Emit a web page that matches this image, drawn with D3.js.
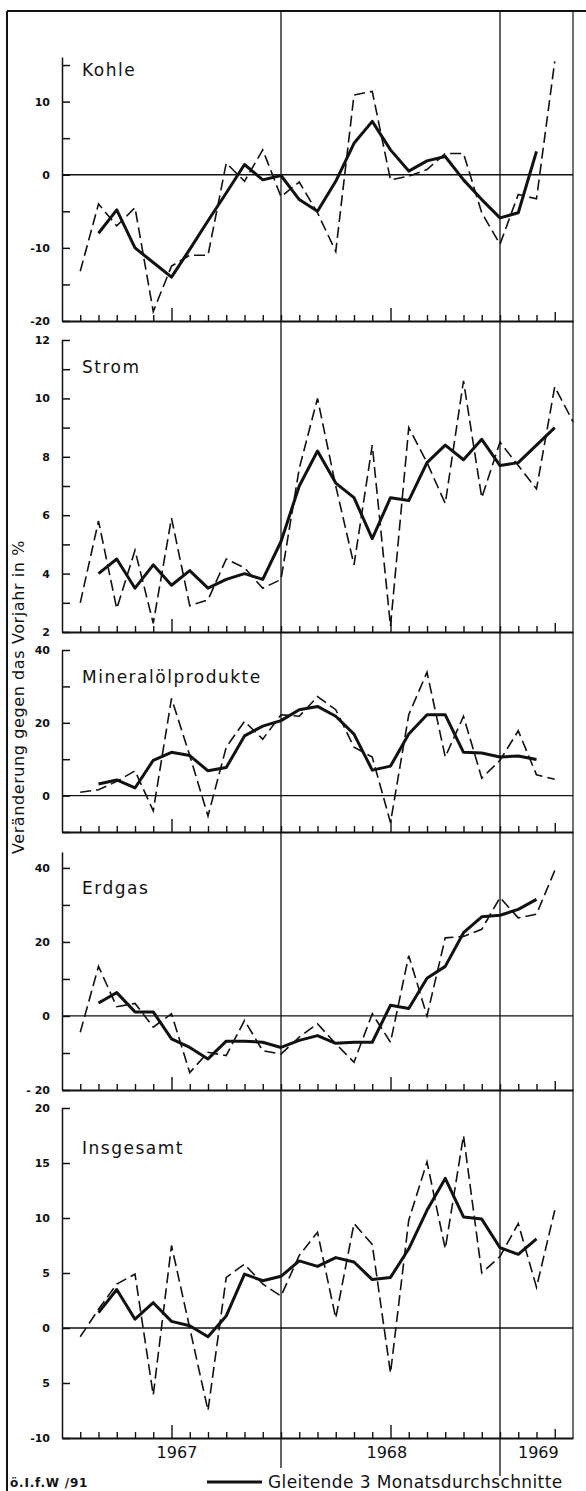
<!DOCTYPE html>
<html>
<head>
<meta charset="utf-8">
<script src="https://cdn.jsdelivr.net/npm/d3@7"></script>
<style>
  body { margin: 0; background: #fff; }
  svg { display: block; }
  .title { font-family: "DejaVu Sans", sans-serif; font-size: 17px; letter-spacing: 1.5px; fill: #111; }
  .tick text { font-family: "DejaVu Sans", sans-serif; font-size: 11px; font-weight: bold; fill: #111; }
</style>
</head>
<body>
<div class="container"></div>
<script>
var width = 586, height = 1491;

// DATA: monthly change vs previous year (%), month index 1 = first month on the axis
const kohleMonthly = [-13.2, -4, -7, -4.5, -18.7, -12.5, -11, -11, 1.6, -0.9, 3.4, -3, -1, -5.2,
  -10.5, 10.9, 11.4, -0.7, -0.2, 0.7, 2.9, 2.9, -5.2, -9.5, -2.7, -3.3, 15.5]
const kohleAvg = [-8, -4.8, -10, -12, -14, -10.2, -6.3, -2.5, 1.4, -0.7, -0.1, -3.4, -5, -0.9,
  4.3, 7.3, 3.4, 0.5, 1.9, 2.5, -0.7, -3.4, -5.9, -5.2, 3.2]

const stromMonthly = [3.0, 5.8, 2.8, 4.8, 2.3, 5.9, 2.9, 3.1, 4.5, 4.2, 3.5, 3.8, 7.6, 10.0,
  7.0, 4.3, 8.4, 2.2, 9.0, 7.8, 6.4, 10.6, 6.6, 8.5, 7.7, 6.9, 10.4, 9.2]
const stromAvg = [4.0, 4.5, 3.5, 4.3, 3.6, 4.1, 3.5, 3.8, 4.0, 3.8, 5.1, 7.0, 8.2, 7.1, 6.6,
  5.2, 6.6, 6.5, 7.8, 8.4, 7.9, 8.6, 7.7, 7.8, 8.4, 9.0]

const mineralMonthly = [0.9, 1.6, 3.9, 6.8, -4.2, 26.7, 11, -5.6, 13.3, 20.4, 15.5, 22.2, 21.8,
  27.2, 23.6, 13.3, 10.6, -7.4, 22.2, 33.9, 10.6, 21.8, 4.8, 9.7, 17.8, 5.7, 4.5]
const mineralAvg = [3.2, 4.3, 2.1, 9.7, 11.9, 11.0, 6.8, 7.7, 16.4, 19.1, 20.6, 23.6, 24.5,
  21.8, 16.9, 7.0, 8.1, 16.9, 22.2, 22.2, 11.9, 11.7, 10.6, 10.9, 9.9]

const erdgasMonthly = [-4.4, 13.4, 2.5, 3.4, -3.0, 0.6, -15.3, -9.8, -10.7, -1.2, -9.4, -10.3,
  -5.7, -2.1, -7.5, -12.5, 0.6, -7.1, 16.3, 0, 21.1, 21.5, 23.4, 32, 26.5, 27.5, 39.3]
const erdgasAvg = [3.5, 6.3, 1.1, 1.1, -6.2, -8.5, -11.6, -6.8, -6.8, -7.1, -8.5, -6.6, -5.3,
  -7.4, -7.1, -7.1, 2.9, 2.0, 10.2, 13.4, 22.5, 26.8, 27.2, 28.8, 31.5]

const gesamtMonthly = [-0.8, 1.7, 4.0, 4.9, -6.1, 7.5, 0, -7.5, 4.6, 5.8, 4.0, 2.9, 6.6, 8.7,
  0.9, 9.5, 7.6, -4.1, 9.8, 15.1, 7.2, 17.5, 5.0, 6.5, 9.5, 3.7, 10.7]
const gesamtAvg = [1.4, 3.5, 0.8, 2.3, 0.6, 0.2, -0.8, 1.1, 4.9, 4.3, 4.7, 6.1, 5.6, 6.4, 6.0,
  4.4, 4.6, 7.2, 10.7, 13.6, 10.1, 9.9, 7.3, 6.7, 8.1]

const years = ['1967', '1968', '1969']
const yearCenters = [6.3, 17.8, 26.1]   // month index of label centre
const yearBreaks = [12, 24]

// PANELS
var panels = [
  {name: 'Kohle', monthly: kohleMonthly, avg: kohleAvg, domain: [-20, 16.1], range: [321, 57],
   ticks: [-20, -15, -10, -5, 0, 5, 10, 15], labels: {'-20': '-20', '-10': '-10', '0': '0', '10': '10'},
   zero: true, titleY: 76},
  {name: 'Strom', monthly: stromMonthly, avg: stromAvg, domain: [2, 12], range: [632, 340],
   ticks: d3.range(2, 13), labels: {'2': '2', '4': '4', '6': '6', '8': '8', '10': '10', '12': '12'},
   zero: false, titleY: 373},
  {name: 'Mineralölprodukte', monthly: mineralMonthly, avg: mineralAvg, domain: [-10, 40], range: [832, 650],
   ticks: [-10, 0, 10, 20, 30, 40], labels: {'0': '0', '20': '20', '40': '40'},
   zero: true, titleY: 683},
  {name: 'Erdgas', monthly: erdgasMonthly, avg: erdgasAvg, domain: [-20, 44.3], range: [1090, 852],
   ticks: [-20, -10, 0, 10, 20, 30, 40], labels: {'-20': '- 20', '0': '0', '20': '20', '40': '40'},
   zero: true, titleY: 894},
  {name: 'Insgesamt', monthly: gesamtMonthly, avg: gesamtAvg, domain: [-10, 20], range: [1438, 1108],
   ticks: [-10, -5, 0, 5, 10, 15, 20], labels: {'-10': '-10', '-5': '5', '0': '0', '5': '5', '10': '10', '15': '15', '20': '20'},
   zero: true, titleY: 1154}
]

var ink = '#111'

var x = d3.scaleLinear().domain([0, 28]).range([62, 573])

var svg = d3.select('body div.container').append('svg')
    .attr('width', width)
    .attr('height', height)

svg.append('rect').attr('width', width).attr('height', height).attr('fill', '#fff')

// outer frame
svg.append('line').attr('x1', 7).attr('x2', 586).attr('y1', 11).attr('y2', 11)
    .attr('stroke', ink).attr('stroke-width', 2)
svg.append('line').attr('x1', 7).attr('x2', 7).attr('y1', 11).attr('y2', height)
    .attr('stroke', ink).attr('stroke-width', 2)
svg.append('line').attr('x1', x(28)).attr('x2', x(28)).attr('y1', 11).attr('y2', 1438)
    .attr('stroke', ink).attr('stroke-width', 1.2)

// year separators
svg.selectAll('line.year')
  .data(yearBreaks)
  .enter().append('line')
    .attr('class', 'year')
    .attr('x1', function(d) { return x(d) })
    .attr('x2', function(d) { return x(d) })
    .attr('y1', 11)
    .attr('y2', function(d, i) { return i === 0 ? 1468 : 1476 })
    .attr('stroke', ink)
    .attr('stroke-width', 1.3)

var months = d3.range(1, 28)

panels.forEach(function(p) {
  var y = d3.scaleLinear().domain(p.domain).range(p.range)
  var g = svg.append('g')

  // y axis
  var yAxis = d3.axisLeft(y)
      .tickValues(p.ticks)
      .tickSizeInner(-8)
      .tickSizeOuter(0)
      .tickPadding(12)
      .tickFormat(function(d) { return p.labels[String(d)] || '' })
  var ya = g.append('g').attr('transform', 'translate(' + x(0) + ',0)').call(yAxis)
  ya.select('.domain').attr('stroke', ink).attr('stroke-width', 1.5)
  ya.selectAll('.tick line').attr('stroke', ink).attr('stroke-width', 1.5)

  // month axis at the bottom of each panel
  var xAxis = d3.axisBottom(x)
      .tickValues(months)
      .tickSizeInner(-6)
      .tickSizeOuter(0)
      .tickFormat('')
  var xa = g.append('g').attr('transform', 'translate(0,' + p.range[0] + ')').call(xAxis)
  xa.select('.domain').attr('stroke', ink).attr('stroke-width', 1.8)
  xa.selectAll('.tick line')
      .attr('stroke', ink).attr('stroke-width', 1.4)
      .attr('y2', function(d) { return (d === 6 || d === 18) ? -13 : (d === 27 ? -9 : -6) })

  if (p.zero) {
    g.append('line')
        .attr('x1', x(0)).attr('x2', x(28))
        .attr('y1', y(0)).attr('y2', y(0))
        .attr('stroke', ink).attr('stroke-width', 1.3)
  }

  g.append('text')
      .attr('class', 'title')
      .attr('x', 82)
      .attr('y', p.titleY)
      .text(p.name)

  var line = d3.line()
      .x(function(d) { return x(d.m) })
      .y(function(d) { return y(d.v) })

  // monthly values, dashed
  g.append('path')
      .datum(p.monthly.map(function(v, i) { return {m: i + 1, v: v} }))
      .attr('d', line)
      .attr('fill', 'none')
      .attr('stroke', ink)
      .attr('stroke-width', 1.6)
      .attr('stroke-dasharray', '11,5')

  // 3-month moving average, solid
  g.append('path')
      .datum(p.avg.map(function(v, i) { return {m: i + 2, v: v} }))
      .attr('d', line)
      .attr('fill', 'none')
      .attr('stroke', ink)
      .attr('stroke-width', 3)
      .attr('stroke-linejoin', 'round')
})

// year labels
svg.selectAll('text.yr')
  .data(years)
  .enter().append('text')
    .attr('class', 'yr')
    .attr('x', function(d, i) { return x(yearCenters[i]) })
    .attr('y', 1458)
    .attr('text-anchor', 'middle')
    .style('font-family', '"DejaVu Sans", sans-serif')
    .style('font-size', '16px')
    .attr('fill', ink)
    .text(function(d) { return d })

// y axis title
svg.append('text')
    .attr('transform', 'translate(24,697) rotate(-90)')
    .attr('text-anchor', 'middle')
    .style('font-family', '"DejaVu Sans", sans-serif')
    .style('font-size', '16px')
    .style('letter-spacing', '0.6px')
    .attr('fill', ink)
    .text('Veränderung gegen das Vorjahr in %')

// legend
svg.append('line')
    .attr('x1', 207).attr('x2', 262).attr('y1', 1482).attr('y2', 1482)
    .attr('stroke', ink).attr('stroke-width', 3)
svg.append('text')
    .attr('x', 268).attr('y', 1488)
    .style('font-family', '"DejaVu Sans", sans-serif')
    .style('font-size', '17px')
    .style('letter-spacing', '0.4px')
    .attr('fill', ink)
    .text('Gleitende 3 Monatsdurchschnitte')

// source
svg.append('text')
    .attr('x', 10).attr('y', 1487)
    .style('font-family', '"DejaVu Sans", sans-serif')
    .style('font-size', '12px')
    .style('font-weight', 'bold')
    .style('letter-spacing', '0.8px')
    .attr('fill', ink)
    .text('ö.I.f.W /91')
</script>
</body>
</html>
